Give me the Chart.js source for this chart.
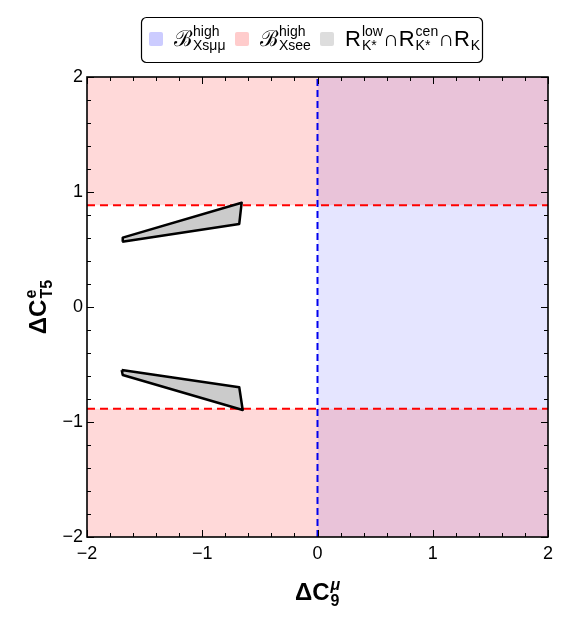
<!DOCTYPE html>
<html>
<head>
<meta charset="utf-8">
<script src="https://cdn.jsdelivr.net/npm/chart.js@4.4.0/dist/chart.umd.min.js"></script>
<style>
  body { margin: 0; background: #fff; }
  canvas { display: block; }
</style>
</head>
<body>
<canvas id="grafico" width="571" height="621"></canvas>
<script>
// limites dos eixos
const eixoX = [-2, 2];
const eixoY = [-2, 2];
const ticksX = [-2, -1, 0, 1, 2];
const ticksY = [-2, -1, 0, 1, 2];

// B(Xsee) alto: |dC_T5^e| > limite
const limiteXsee = 0.885;
// B(Xsmumu) alto: dC_9^mu > 0
const limiteXsmumu = 0;

// regiao permitida R_K*low ∩ R_K*cen ∩ R_K (dois pedacos)
const regiaoSupX = [-1.694, -1.690, -0.658, -0.679, -1.694];
const regiaoSupY = [0.568, 0.603, 0.907, 0.722, 0.568];
const regiaoInfX = [-1.699, -0.679, -0.649, -1.690, -1.699];
const regiaoInfY = [-0.548, -0.698, -0.896, -0.591, -0.548];

const fonte = "'Liberation Sans', Arial, sans-serif";

function pontos(xs, ys) {
    return xs.map((x, i) => ({ x: x, y: ys[i] }));
}

function fmt(v) {
    return v < 0 ? '\u2212' + Math.abs(v) : String(v);
}

// desenha texto com sobrescrito/subscrito empilhados
function textoMath(ctx, x, y, partes, fBase, fScript, supDy, subDy, medir) {
    let cx = x;
    for (const p of partes) {
        ctx.font = p.fb || fBase;
        if (!medir) ctx.fillText(p.b, cx, y);
        cx += ctx.measureText(p.b).width;
        let w = 0;
        if (p.sup) {
            ctx.font = p.fsup || fScript;
            if (!medir) ctx.fillText(p.sup, cx + 1, y - supDy);
            w = Math.max(w, ctx.measureText(p.sup).width + 1);
        }
        if (p.sub) {
            ctx.font = p.fsub || fScript;
            if (!medir) ctx.fillText(p.sub, cx + 1, y + subDy);
            w = Math.max(w, ctx.measureText(p.sub).width + 1);
        }
        cx += w;
    }
    return cx - x;
}

const decoracao = {
    id: 'decoracao',
    afterDraw(chart) {
        const { ctx, chartArea: a, scales: { x, y } } = chart;
        ctx.save();

        // moldura e ticks para dentro
        ctx.strokeStyle = '#000';
        ctx.lineWidth = 1;
        for (let i = 0; i <= 20; i++) {
            const v = x.min + i * 0.2;
            const maior = Math.abs(v - Math.round(v)) < 1e-6;
            const len = maior ? 7 : 4;
            const px = Math.round(x.getPixelForValue(v)) + 0.5;
            ctx.beginPath();
            ctx.moveTo(px, a.bottom); ctx.lineTo(px, a.bottom - len);
            ctx.moveTo(px, a.top); ctx.lineTo(px, a.top + len);
            ctx.stroke();
        }
        for (let i = 0; i <= 20; i++) {
            const v = y.min + i * 0.2;
            const maior = Math.abs(v - Math.round(v)) < 1e-6;
            const len = maior ? 7 : 4;
            const py = Math.round(y.getPixelForValue(v)) + 0.5;
            ctx.beginPath();
            ctx.moveTo(a.left, py); ctx.lineTo(a.left + len, py);
            ctx.moveTo(a.right, py); ctx.lineTo(a.right - len, py);
            ctx.stroke();
        }
        ctx.lineWidth = 1.6;
        ctx.strokeRect(a.left, a.top, a.right - a.left, a.bottom - a.top);

        // titulos dos eixos
        ctx.fillStyle = '#000';
        ctx.textBaseline = 'alphabetic';
        const fT = 'bold 24px ' + fonte;
        const fS = 'bold 16px ' + fonte;
        const tituloX = [{ b: '\u0394C', sup: '\u03bc', sub: '9', fsup: 'bold italic 16px ' + fonte }];
        let w = textoMath(ctx, 0, 0, tituloX, fT, fS, 10, 6, true);
        textoMath(ctx, (a.left + a.right) / 2 - w / 2, 600, tituloX, fT, fS, 10, 6);

        const tituloY = [{ b: '\u0394C', sup: 'e', sub: 'T5' }];
        w = textoMath(ctx, 0, 0, tituloY, fT, fS, 10, 6, true);
        ctx.save();
        ctx.translate(46, (a.top + a.bottom) / 2);
        ctx.rotate(-Math.PI / 2);
        textoMath(ctx, -w / 2, 0, tituloY, fT, fS, 10, 6);
        ctx.restore();

        // legenda
        ctx.lineWidth = 1.2;
        ctx.beginPath();
        ctx.roundRect(141.5, 17.5, 341, 45, 5);
        ctx.stroke();
        const fL = '22px ' + fonte;
        const fLs = '14px ' + fonte;
        const itens = [
            { cor: '#ccccff', x: 149, partes: [{ b: '\u212C', sup: 'high', sub: 'Xs\u03bc\u03bc' }] },
            { cor: '#ffcccc', x: 235, partes: [{ b: '\u212C', sup: 'high', sub: 'Xsee' }] },
            { cor: '#dddddd', x: 320, partes: [
                { b: 'R', sup: 'low', sub: 'K*' }, { b: '\u2229' },
                { b: 'R', sup: 'cen', sub: 'K*' }, { b: '\u2229' },
                { b: 'R', sub: 'K' }] }
        ];
        for (const it of itens) {
            ctx.fillStyle = it.cor;
            ctx.beginPath();
            ctx.roundRect(it.x, 32, 14, 14, 2);
            ctx.fill();
            ctx.fillStyle = '#000';
            textoMath(ctx, it.x + 25, 46, it.partes, fL, fLs, 10, 4);
        }
        ctx.restore();
    }
};

const ctx = document.getElementById('grafico').getContext('2d');
const grafico = new Chart(ctx, {
    type: 'scatter',
    data: {
        datasets: [
            {
                data: pontos(regiaoSupX, regiaoSupY),
                showLine: true, fill: 'shape',
                backgroundColor: '#cbcbcb', borderColor: '#000',
                borderWidth: 2.5, borderJoinStyle: 'round', tension: 0
            },
            {
                data: pontos(regiaoInfX, regiaoInfY),
                showLine: true, fill: 'shape',
                backgroundColor: '#cbcbcb', borderColor: '#000',
                borderWidth: 2.5, borderJoinStyle: 'round', tension: 0
            },
            {
                // linha vertical azul tracejada
                data: pontos([limiteXsmumu, limiteXsmumu], eixoY),
                showLine: true, fill: false,
                borderColor: '#0000ee', borderWidth: 2, borderDash: [7, 4]
            },
            {
                data: pontos(eixoX, [limiteXsee, limiteXsee]),
                showLine: true, fill: 'end',
                backgroundColor: 'rgba(255, 0, 0, 0.15)',
                borderColor: '#ff0000', borderWidth: 2, borderDash: [8, 5]
            },
            {
                data: pontos(eixoX, [-limiteXsee, -limiteXsee]),
                showLine: true, fill: 'start',
                backgroundColor: 'rgba(255, 0, 0, 0.15)',
                borderColor: '#ff0000', borderWidth: 2, borderDash: [8, 5]
            },
            {
                // regiao azul: dC9 > 0
                data: pontos([limiteXsmumu, eixoX[1]], [eixoY[1], eixoY[1]]),
                showLine: true, fill: 'start',
                backgroundColor: 'rgba(0, 0, 255, 0.1)',
                borderWidth: 0, borderColor: 'rgba(0,0,0,0)'
            }
        ]
    },
    options: {
        responsive: false,
        animation: false,
        elements: { point: { radius: 0, hoverRadius: 0 } },
        layout: { padding: { top: 77, right: 23, left: 0, bottom: 0 } },
        plugins: { legend: { display: false }, tooltip: { enabled: false } },
        scales: {
            x: {
                type: 'linear', min: eixoX[0], max: eixoX[1],
                afterBuildTicks: s => { s.ticks = ticksX.map(v => ({ value: v })); },
                afterFit: s => { s.height = 84; },
                grid: { display: false, drawTicks: false }, border: { display: false },
                ticks: { color: '#000', padding: 6, maxRotation: 0, font: { family: fonte, size: 18 }, callback: fmt }
            },
            y: {
                type: 'linear', min: eixoY[0], max: eixoY[1],
                afterBuildTicks: s => { s.ticks = ticksY.map(v => ({ value: v })); },
                afterFit: s => { s.width = 87; },
                grid: { display: false, drawTicks: false }, border: { display: false },
                ticks: { color: '#000', padding: 4, font: { family: fonte, size: 18 }, callback: fmt }
            }
        }
    },
    plugins: [decoracao]
});
</script>
</body>
</html>
